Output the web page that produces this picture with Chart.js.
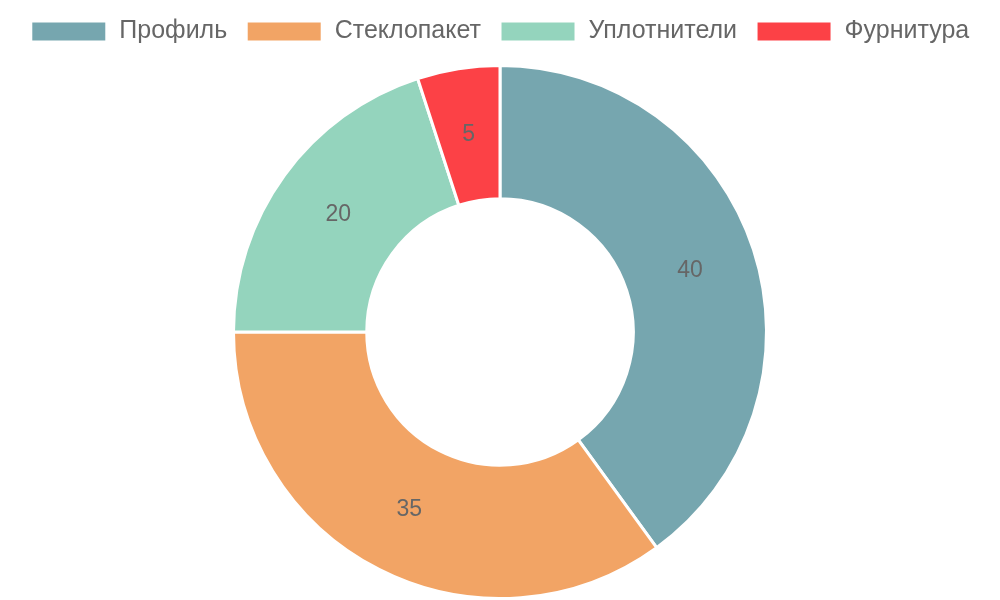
<!DOCTYPE html>
<html>
<head>
<meta charset="utf-8">
<script src="https://cdn.jsdelivr.net/npm/chart.js@4"></script>
<style>
  body { margin: 0; background: #fff; }
  #wrap { width: 1000px; height: 600px; }
</style>
</head>
<body>
<div id="wrap"><canvas id="myChart"></canvas></div>
<script>
var labels = ["Профиль", "Стеклопакет", "Уплотнители", "Фурнитура"];
var values = [40, 35, 20, 5];
var colors = ["#76a6af", "#f2a465", "#94d4bd", "#fc4146"];

// draws the value in the middle of each slice
var sliceLabels = {
    id: 'sliceLabels',
    afterDatasetsDraw: function (chart) {
        var ctx = chart.ctx;
        var meta = chart.getDatasetMeta(0);
        ctx.save();
        ctx.font = '23px "Liberation Sans", Arial, sans-serif';
        ctx.fillStyle = '#666';
        ctx.textAlign = 'center';
        ctx.textBaseline = 'middle';
        meta.data.forEach(function (arc, i) {
            var p = arc.tooltipPosition();
            ctx.fillText(values[i], p.x, p.y);
        });
        ctx.restore();
    }
};

// a bit more room under the legend
var legendGap = {
    id: 'legendGap',
    beforeInit: function (chart) {
        var fit = chart.legend.fit;
        chart.legend.fit = function () {
            fit.bind(chart.legend)();
            this.height += 10;
        };
    }
};

Chart.defaults.font.family = '"Liberation Sans", Arial, sans-serif';
Chart.defaults.color = '#666';

var ctx = document.getElementById("myChart").getContext('2d');
var myChart = new Chart(ctx, {
    type: 'doughnut',
    data: {
        labels: labels,
        datasets: [{
            data: values,
            backgroundColor: colors,
            borderColor: '#fff',
            borderWidth: 3
        }]
    },
    options: {
        responsive: true,
        maintainAspectRatio: false,
        animation: false,
        cutout: '50%',
        plugins: {
            legend: {
                position: 'top',
                labels: {
                    boxWidth: 76,
                    boxHeight: 21,
                    padding: 19,
                    font: { size: 25 }
                }
            },
            tooltip: { enabled: false }
        }
    },
    plugins: [sliceLabels, legendGap]
});
</script>
</body>
</html>
